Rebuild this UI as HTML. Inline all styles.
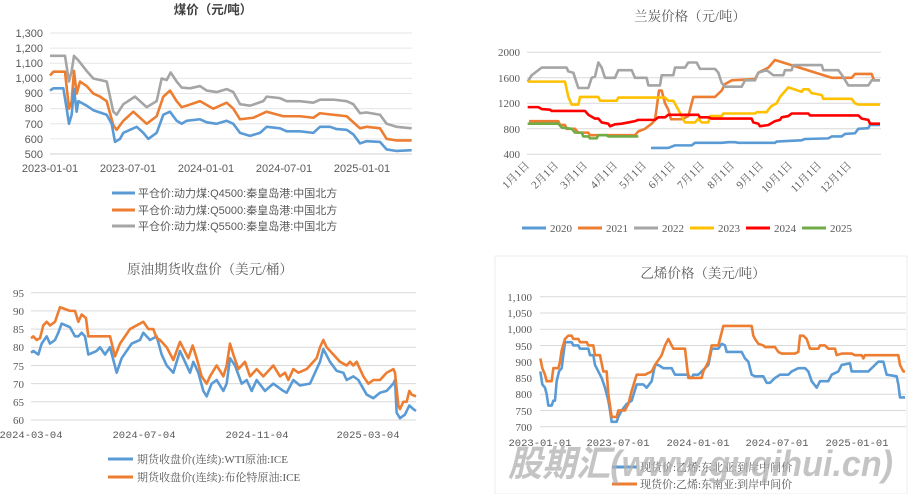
<!DOCTYPE html>
<html><head><meta charset="utf-8"><style>
body{margin:0;background:#fff;}
svg{display:block}
.s{font-family:"Liberation Sans","Noto Sans CJK SC",sans-serif;}
.r{font-family:"Liberation Serif","Noto Serif CJK SC",serif;}
.m{font-family:"Liberation Mono","Noto Serif CJK SC",monospace;}
polyline{fill:none;stroke-width:2.6;vector-effect:non-scaling-stroke;stroke-linejoin:round}
</style></head><body>
<svg width="910" height="494" viewBox="0 0 910 494" xmlns="http://www.w3.org/2000/svg">
<rect width="910" height="494" fill="#fff"/>
<!-- Chart 1 -->
<g class="s" fill="#595959" font-size="11">
<text x="213" y="14" text-anchor="middle" font-weight="bold" font-size="12.5" fill="#404040">煤价（元/吨）</text>
<g stroke="#e6e6e6" stroke-width="1">
<line x1="50" x2="412" y1="33" y2="33"/><line x1="50" x2="412" y1="48.1" y2="48.1"/><line x1="50" x2="412" y1="63.3" y2="63.3"/><line x1="50" x2="412" y1="78.4" y2="78.4"/><line x1="50" x2="412" y1="93.5" y2="93.5"/><line x1="50" x2="412" y1="108.6" y2="108.6"/><line x1="50" x2="412" y1="123.8" y2="123.8"/><line x1="50" x2="412" y1="138.9" y2="138.9"/>
</g>
<line x1="50" x2="412" y1="154" y2="154" stroke="#d0d0d0"/>
<g text-anchor="end"><text x="43" y="37">1,300</text><text x="43" y="52">1,200</text><text x="43" y="67">1,100</text><text x="43" y="82">1,000</text><text x="43" y="97">900</text><text x="43" y="112">800</text><text x="43" y="128">700</text><text x="43" y="143">600</text><text x="43" y="158">500</text></g>
<g text-anchor="middle"><text x="50" y="172">2023-01-01</text><text x="128" y="172">2023-07-01</text><text x="206" y="172">2024-01-01</text><text x="284" y="172">2024-07-01</text><text x="362" y="172">2025-01-01</text></g>
<g transform="translate(0,229.5) scale(0.33333,-0.151)">
<polyline stroke="#a5a5a5" points="150,1150 195,1150 207,980 215,1050 222,1150 235,1120 260,1050 280,1000 320,980 340,780 350,760 370,830 405,880 440,810 470,850 485,1000 500,990 512,1040 530,980 545,940 570,935 600,950 620,920 650,910 680,930 700,910 720,830 750,820 790,850 800,880 840,870 860,850 900,850 940,840 960,860 1000,860 1040,850 1060,830 1080,770 1100,775 1140,760 1160,700 1190,680 1235,670"/>
<polyline stroke="#ed7d31" points="150,1020 160,1045 195,1045 207,800 215,850 222,1050 230,900 240,980 260,950 280,900 300,880 320,850 340,690 350,660 370,720 400,780 440,700 470,750 490,880 510,920 530,850 545,810 560,820 600,850 640,800 680,840 700,800 720,730 760,740 800,780 850,750 900,750 940,740 960,770 1000,760 1040,750 1080,670 1100,680 1140,670 1160,600 1190,590 1235,590"/>
<polyline stroke="#5b9bd5" points="150,920 160,935 190,935 200,800 207,700 215,760 222,930 230,780 235,850 260,820 280,790 320,760 335,700 345,580 360,600 370,640 390,660 410,680 430,640 445,600 470,640 490,760 510,780 530,720 545,700 560,720 600,730 620,710 650,700 680,720 700,700 720,640 750,620 780,640 800,680 840,670 860,650 900,650 940,640 960,680 990,680 1010,665 1040,660 1060,630 1080,570 1100,585 1140,580 1160,530 1190,520 1235,525"/>
</g>
<line x1="112" x2="135" y1="193" y2="193" stroke="#5b9bd5" stroke-width="3"/><text x="138" y="197">平仓价:动力煤:Q4500:秦皇岛港:中国北方</text>
<line x1="112" x2="135" y1="210" y2="210" stroke="#ed7d31" stroke-width="3"/><text x="138" y="214">平仓价:动力煤:Q5000:秦皇岛港:中国北方</text>
<line x1="112" x2="135" y1="226" y2="226" stroke="#a5a5a5" stroke-width="3"/><text x="138" y="230">平仓价:动力煤:Q5500:秦皇岛港:中国北方</text>
</g>
<!-- Chart 2 -->
<g class="r" fill="#595959" font-size="11">
<text x="690" y="21" text-anchor="middle" font-size="13.5">兰炭价格（元/吨）</text>
<g stroke="#d9d9d9"><line x1="527" x2="881" y1="52.3" y2="52.3"/><line x1="527" x2="881" y1="77.8" y2="77.8"/><line x1="527" x2="881" y1="103.3" y2="103.3"/><line x1="527" x2="881" y1="128.8" y2="128.8"/><line x1="527" x2="881" y1="154.3" y2="154.3"/></g>
<g text-anchor="end"><text x="520" y="56">2000</text><text x="520" y="82">1600</text><text x="520" y="107">1200</text><text x="520" y="133">800</text><text x="520" y="158">400</text></g>
<g text-anchor="end">
<text transform="translate(530,166) rotate(-45)">1月1日</text>
<text transform="translate(559,166) rotate(-45)">2月1日</text>
<text transform="translate(588,166) rotate(-45)">3月1日</text>
<text transform="translate(618,166) rotate(-45)">4月1日</text>
<text transform="translate(647,166) rotate(-45)">5月1日</text>
<text transform="translate(676,166) rotate(-45)">6月1日</text>
<text transform="translate(705,166) rotate(-45)">7月1日</text>
<text transform="translate(735,166) rotate(-45)">8月1日</text>
<text transform="translate(764,166) rotate(-45)">9月1日</text>
<text transform="translate(793,166) rotate(-45)">10月1日</text>
<text transform="translate(822,166) rotate(-45)">11月1日</text>
<text transform="translate(852,166) rotate(-45)">12月1日</text>
</g>
<g transform="translate(455,179.8) scale(0.33333,-0.06375)">
<polyline stroke="#5b9bd5" points="588,500 640,500 660,540 710,540 720,580 800,580 820,590 840,590 850,580 960,580 965,600 1000,610 1040,620 1050,640 1120,650 1130,680 1160,680 1170,720 1200,730 1210,800 1240,810 1245,860 1275,860"/>
<polyline stroke="#ed7d31" points="222,920 310,920 315,860 330,860 335,800 360,800 370,740 400,740 405,700 540,700 550,760 570,800 590,880 600,940 612,1400 620,1400 630,1200 640,1100 648,950 680,950 700,1000 715,1300 780,1300 800,1400 810,1500 830,1560 900,1580 910,1680 940,1760 960,1880 1130,1600 1190,1600 1200,1660 1250,1660 1257,1560 1275,1560"/>
<polyline stroke="#a5a5a5" points="218,1540 230,1640 260,1760 335,1760 340,1700 355,1680 360,1600 370,1440 400,1440 410,1600 420,1620 430,1840 440,1760 450,1600 480,1600 490,1720 530,1720 540,1600 575,1600 580,1480 615,1480 620,1640 655,1640 660,1760 690,1760 700,1840 725,1840 735,1740 780,1740 790,1680 800,1520 810,1460 860,1460 870,1560 900,1560 910,1680 935,1720 955,1640 985,1640 990,1720 1010,1720 1015,1800 1100,1800 1105,1720 1150,1720 1160,1650 1180,1480 1240,1480 1250,1560 1275,1560"/>
<polyline stroke="#ffc000" points="218,1540 330,1540 340,1300 350,1180 370,1180 375,1300 430,1300 435,1240 485,1240 490,1290 630,1290 640,1240 655,1240 670,1100 690,900 720,900 730,960 740,900 760,900 765,1000 800,1000 805,1040 900,1040 905,1060 935,1060 940,1100 950,1160 965,1200 975,1300 1000,1450 1040,1380 1045,1420 1060,1420 1070,1360 1100,1330 1105,1270 1190,1270 1200,1200 1210,1180 1275,1180"/>
<polyline stroke="#ff0000" points="218,1140 250,1140 260,1110 285,1100 290,1080 390,1080 400,1020 420,960 430,960 440,900 460,880 465,840 475,860 480,870 500,880 520,900 540,920 550,940 600,940 610,980 630,980 640,1020 730,1020 735,980 760,980 770,960 890,960 895,900 910,880 915,840 940,860 960,920 975,940 980,980 1000,1000 1010,1040 1060,1040 1065,1010 1210,1010 1220,960 1240,940 1245,880 1275,880"/>
<polyline stroke="#70ad47" points="218,880 310,880 320,820 350,800 360,740 380,740 385,680 400,680 405,650 425,650 430,700 455,700 460,680 550,680"/>
</g>
<g font-size="11">
<line x1="522" x2="546" y1="228" y2="228" stroke="#5b9bd5" stroke-width="3"/><text x="550" y="232">2020</text>
<line x1="578" x2="602" y1="228" y2="228" stroke="#ed7d31" stroke-width="3"/><text x="606" y="232">2021</text>
<line x1="634" x2="658" y1="228" y2="228" stroke="#a5a5a5" stroke-width="3"/><text x="662" y="232">2022</text>
<line x1="690" x2="714" y1="228" y2="228" stroke="#ffc000" stroke-width="3"/><text x="718" y="232">2023</text>
<line x1="746" x2="770" y1="228" y2="228" stroke="#ff0000" stroke-width="3"/><text x="774" y="232">2024</text>
<line x1="802" x2="826" y1="228" y2="228" stroke="#70ad47" stroke-width="3"/><text x="830" y="232">2025</text>
</g>
</g>
<!-- Chart 3 -->
<g class="r" fill="#595959" font-size="11">
<text x="210" y="274" text-anchor="middle" font-size="13.5">原油期货收盘价（美元/桶）</text>
<g stroke="#d9d9d9"><line x1="31" x2="416" y1="292.7" y2="292.7"/><line x1="31" x2="416" y1="310.9" y2="310.9"/><line x1="31" x2="416" y1="329.1" y2="329.1"/><line x1="31" x2="416" y1="347.3" y2="347.3"/><line x1="31" x2="416" y1="365.5" y2="365.5"/><line x1="31" x2="416" y1="383.6" y2="383.6"/><line x1="31" x2="416" y1="401.8" y2="401.8"/><line x1="31" x2="416" y1="420" y2="420"/></g>
<g text-anchor="end"><text x="24" y="297">95</text><text x="24" y="315">90</text><text x="24" y="333">85</text><text x="24" y="351">80</text><text x="24" y="370">75</text><text x="24" y="388">70</text><text x="24" y="406">65</text><text x="24" y="424">60</text></g>
<g class="m" text-anchor="middle" font-size="10.5"><text x="31" y="438">2024-03-04</text><text x="144" y="438">2024-07-04</text><text x="257" y="438">2024-11-04</text><text x="368" y="438">2025-03-04</text></g>
<g transform="translate(0,638.3) scale(0.33333,-3.638)">
<polyline stroke="#5b9bd5" points="93,78.5 100,79 115,78 125,81 140,83 150,81 165,82 175,84 185,86.5 210,85.5 225,83 235,83 245,84 255,83 265,78 290,79 300,80 315,78 330,80 350,73 365,77 380,79 395,81 420,82 430,84 450,82 470,83 485,78 500,75 520,73 540,79 560,75 570,73 580,76 595,73 610,68 620,66.5 635,70 650,71 670,68 680,70 690,77 705,75 725,70 740,71 755,68 770,71 795,68 820,70 850,68 860,67.5 880,71 900,69.5 930,70 950,74 960,76 970,79.5 990,76 1010,73.5 1030,73 1040,71 1060,72 1075,71 1100,67 1120,66 1140,67.5 1160,68 1180,70 1185,71 1190,62 1200,60.5 1215,61.5 1228,64 1240,63 1248,62.5"/>
<polyline stroke="#ed7d31" points="93,82.5 100,83 110,82 120,82.5 130,86 140,87 150,86 165,87 180,91 210,90 225,90 235,87 245,89 258,88 265,83 330,83 345,77.5 360,81 390,85 430,87 445,85 460,85 470,82.5 480,82 500,80 520,76.5 540,81.5 565,77 578,80.5 590,77 605,72 620,70 630,72 650,75 670,72 680,75 690,81 700,78 715,74 735,76 750,72 770,74 790,72 820,75 840,72 855,73 865,71 880,74 895,73 920,74 940,76 950,77 960,80 970,82 980,80 1000,78 1020,76 1040,75 1050,76 1060,75 1070,76 1090,72 1105,70 1120,71 1140,71 1160,73 1180,74 1185,73 1195,64 1200,63 1210,65 1220,65 1228,68 1235,67 1248,66.5"/>
</g>
<line x1="108" x2="133" y1="459" y2="459" stroke="#5b9bd5" stroke-width="3"/><text x="137" y="463">期货收盘价(连续):WTI原油:ICE</text>
<line x1="108" x2="133" y1="477" y2="477" stroke="#ed7d31" stroke-width="3"/><text x="137" y="481">期货收盘价(连续):布伦特原油:ICE</text>
</g>
<!-- Chart 4 -->
<g class="r" fill="#595959" font-size="11">
<rect x="495" y="256" width="412" height="238" fill="none" stroke="#eeeeee"/>
<text x="703" y="278" text-anchor="middle" font-size="13.5">乙烯价格（美元/吨）</text>
<g stroke="#d9d9d9"><line x1="540" x2="906" y1="296.7" y2="296.7"/><line x1="540" x2="906" y1="313" y2="313"/><line x1="540" x2="906" y1="329.2" y2="329.2"/><line x1="540" x2="906" y1="345.5" y2="345.5"/><line x1="540" x2="906" y1="361.7" y2="361.7"/><line x1="540" x2="906" y1="378" y2="378"/><line x1="540" x2="906" y1="394.2" y2="394.2"/><line x1="540" x2="906" y1="410.5" y2="410.5"/><line x1="540" x2="906" y1="426.7" y2="426.7"/></g>
<g text-anchor="end"><text x="532" y="301">1,100</text><text x="532" y="317">1,050</text><text x="532" y="333">1,000</text><text x="532" y="350">950</text><text x="532" y="366">900</text><text x="532" y="382">850</text><text x="532" y="398">800</text><text x="532" y="415">750</text><text x="532" y="431">700</text></g>
<g class="m" text-anchor="middle" font-size="10.5"><text x="540" y="446">2023-01-01</text><text x="618" y="446">2023-07-01</text><text x="698" y="446">2024-01-01</text><text x="777" y="446">2024-07-01</text><text x="857" y="446">2025-01-01</text></g>
<g transform="translate(455,654.2) scale(0.33333,-0.325)">
<polyline stroke="#5b9bd5" points="256,870 262,830 270,820 275,800 280,765 290,765 295,780 300,780 305,840 312,870 320,880 330,960 350,960 355,950 370,950 375,940 400,940 405,920 415,920 420,890 430,870 440,850 450,820 460,780 465,750 470,715 485,715 490,730 500,750 515,770 530,780 545,830 565,830 575,820 590,840 600,890 610,890 625,880 650,880 660,860 700,860 705,850 710,850 715,860 730,860 740,870 760,890 770,940 790,940 800,955 810,950 815,930 860,930 870,910 880,900 890,860 900,855 925,855 935,835 945,835 960,850 975,860 1000,860 1010,870 1030,880 1050,880 1060,870 1070,840 1085,820 1095,840 1120,840 1130,860 1150,870 1160,890 1185,895 1190,870 1240,870 1250,880 1260,890 1270,900 1285,900 1295,860 1325,855 1330,830 1335,790 1350,790"/>
<polyline stroke="#ed7d31" points="256,910 262,880 270,860 275,840 290,840 295,880 310,880 315,900 320,935 330,970 340,980 350,980 355,970 370,970 375,960 395,960 400,950 415,950 420,920 435,920 445,870 455,870 460,800 470,730 485,730 490,750 510,750 520,770 530,810 545,860 570,860 590,870 600,890 620,920 630,950 640,970 655,940 690,940 700,850 740,850 745,870 760,900 770,950 790,950 795,970 805,1010 890,1010 895,980 900,970 910,955 925,950 930,945 960,945 970,930 980,925 1020,925 1030,930 1035,980 1045,980 1055,970 1065,940 1090,940 1095,950 1110,950 1120,940 1140,940 1145,920 1160,925 1190,925 1200,920 1220,920 1225,910 1230,920 1330,920 1335,890 1345,870 1350,870"/>
</g>
<line x1="612" x2="637" y1="467" y2="467" stroke="#5b9bd5" stroke-width="3"/><text x="640" y="471">现货价:乙烯:东北亚:到岸中间价</text>
<line x1="612" x2="637" y1="484" y2="484" stroke="#ed7d31" stroke-width="3"/><text x="640" y="488">现货价:乙烯:东南亚:到岸中间价</text>
</g>
<!-- watermark -->
<text x="508" y="476" font-family="Liberation Sans","Noto Sans CJK SC",sans-serif font-size="36" font-weight="bold" font-style="italic" fill="#b0b0b0" fill-opacity="0.75" textLength="385" lengthAdjust="spacingAndGlyphs" style="font-family:'Liberation Sans','Noto Sans CJK SC',sans-serif">股期汇(www.guqihui.cn)</text>
</svg>
</body></html>
